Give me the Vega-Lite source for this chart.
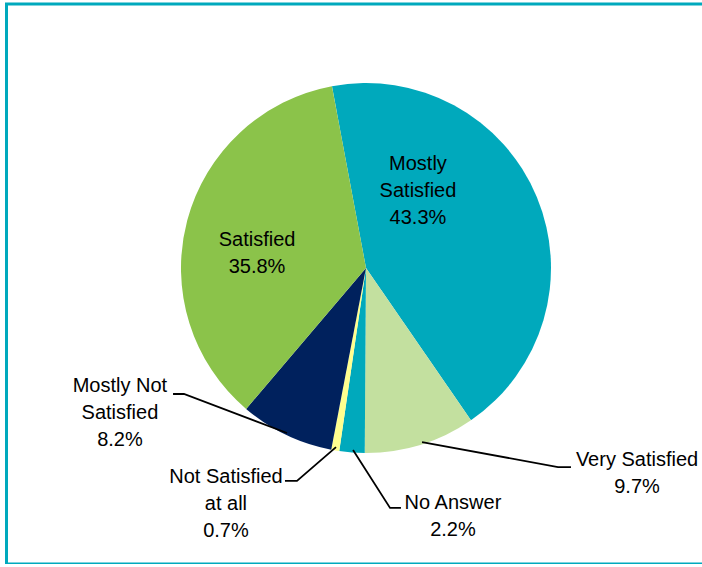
{
  "$schema": "https://vega.github.io/schema/vega-lite/v6.json",
  "width": 702,
  "height": 560,
  "autosize": {"type": "none"},
  "padding": {"left": 6.5, "top": 4, "right": 0, "bottom": 0},
  "background": "white",
  "config": {
    "view": {"stroke": "#00A9BD", "strokeWidth": 3},
    "font": "Liberation Sans, Arial, sans-serif"
  },
  "datasets": {
    "slices": [
      {"category": "Mostly Satisfied", "value": 43.3, "rank": 1},
      {"category": "Very Satisfied", "value": 9.7, "rank": 2},
      {"category": "No Answer", "value": 2.2, "rank": 3},
      {"category": "Not Satisfied at all", "value": 0.7, "rank": 4},
      {"category": "Mostly Not Satisfied", "value": 8.2, "rank": 5},
      {"category": "Satisfied", "value": 35.8, "rank": 6}
    ],
    "labels": [
      {"category": "Mostly Satisfied", "name": "Mostly\nSatisfied", "lx": 0.281, "ly": 0.562},
      {"category": "Satisfied", "name": "Satisfied", "lx": -0.589, "ly": 0.151},
      {"category": "Mostly Not Satisfied", "name": "Mostly Not\nSatisfied", "lx": -1.33, "ly": -0.638},
      {"category": "Not Satisfied at all", "name": "Not Satisfied\nat all", "lx": -0.757, "ly": -1.13},
      {"category": "No Answer", "name": "No Answer", "lx": 0.47, "ly": -1.27},
      {"category": "Very Satisfied", "name": "Very Satisfied", "lx": 1.465, "ly": -1.038}
    ],
    "leaders": [
      {"category": "Very Satisfied", "i": 1, "x": 0.303, "y": -0.941},
      {"category": "Very Satisfied", "i": 2, "x": 1.038, "y": -1.076},
      {"category": "Very Satisfied", "i": 3, "x": 1.108, "y": -1.076},
      {"category": "No Answer", "i": 1, "x": -0.07, "y": -0.984},
      {"category": "No Answer", "i": 2, "x": 0.13, "y": -1.297},
      {"category": "No Answer", "i": 3, "x": 0.189, "y": -1.297},
      {"category": "Not Satisfied at all", "i": 1, "x": -0.162, "y": -0.968},
      {"category": "Not Satisfied at all", "i": 2, "x": -0.373, "y": -1.151},
      {"category": "Not Satisfied at all", "i": 3, "x": -0.438, "y": -1.151},
      {"category": "Mostly Not Satisfied", "i": 1, "x": -0.427, "y": -0.892},
      {"category": "Mostly Not Satisfied", "i": 2, "x": -0.984, "y": -0.681},
      {"category": "Mostly Not Satisfied", "i": 3, "x": -1.043, "y": -0.681}
    ]
  },
  "layer": [
    {
      "data": {"name": "slices"},
      "mark": {"type": "arc", "outerRadius": 185},
      "encoding": {
        "theta": {"field": "value", "type": "quantitative", "stack": true, "scale": {"range": [-0.185, 6.098]}},
        "order": {"field": "rank", "type": "quantitative"},
        "color": {
          "field": "category",
          "type": "nominal",
          "legend": null,
          "scale": {
            "domain": ["Mostly Satisfied", "Very Satisfied", "No Answer", "Not Satisfied at all", "Mostly Not Satisfied", "Satisfied"],
            "range": ["#00A9BC", "#C3E09F", "#00A9BC", "#FFFF8F", "#00215D", "#8BC34A"]
          }
        },
        "x": {"datum": 0, "type": "quantitative", "scale": {"domain": [-1.9432, 1.8514], "nice": false, "zero": false}, "axis": null},
        "y": {"datum": 0, "type": "quantitative", "scale": {"domain": [-1.6, 1.427], "nice": false, "zero": false}, "axis": null}
      }
    },
    {
      "data": {"name": "leaders"},
      "mark": {"type": "line", "color": "black", "strokeWidth": 1.8},
      "encoding": {
        "x": {"field": "x", "type": "quantitative", "axis": null},
        "y": {"field": "y", "type": "quantitative", "axis": null},
        "detail": {"field": "category", "type": "nominal"},
        "order": {"field": "i", "type": "quantitative"}
      }
    },
    {
      "data": {"name": "labels"},
      "transform": [
        {"lookup": "category", "from": {"data": {"name": "slices"}, "key": "category", "fields": ["value"]}},
        {"calculate": "datum.name + '\\n' + format(datum.value, '.1f') + '%'", "as": "text"}
      ],
      "mark": {"type": "text", "fontSize": 20, "lineHeight": 27, "lineBreak": "\n", "baseline": "middle", "align": "center", "color": "black", "font": "Liberation Sans, Arial, sans-serif"},
      "encoding": {
        "x": {"field": "lx", "type": "quantitative", "axis": null},
        "y": {"field": "ly", "type": "quantitative", "axis": null},
        "text": {"field": "text", "type": "nominal"}
      }
    }
  ]
}
